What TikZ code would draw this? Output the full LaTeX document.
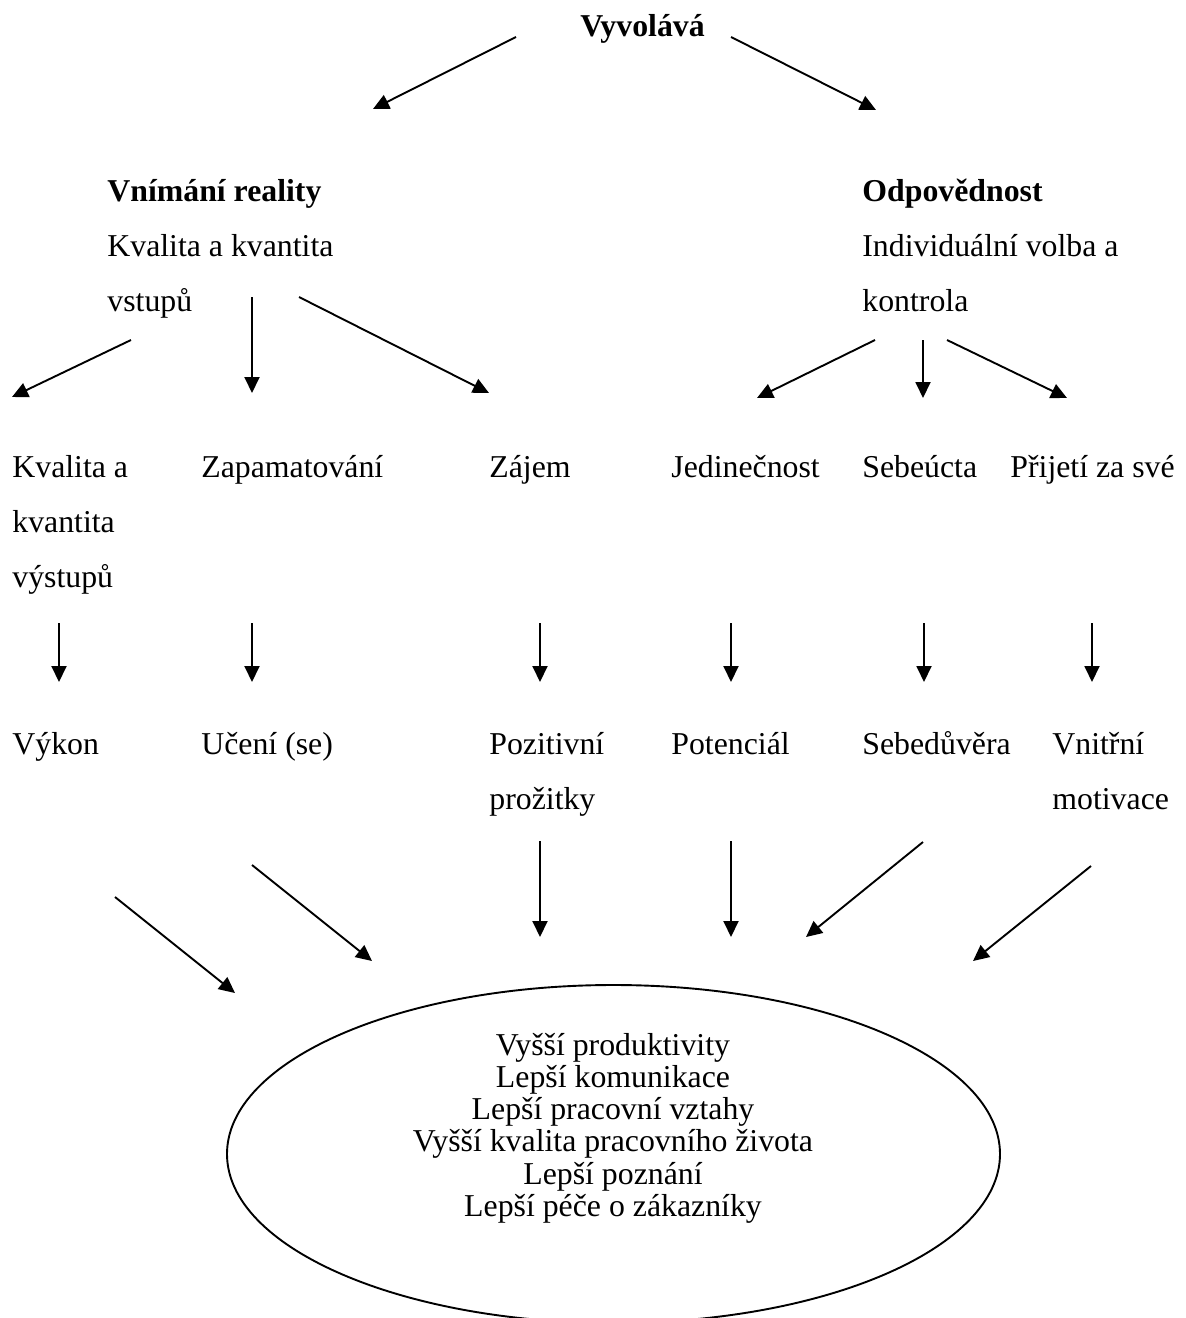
\documentclass[tikz,border=0pt]{standalone}
\usepackage{fontspec}
\setmainfont{Liberation Serif}
\usetikzlibrary{arrows.meta,shapes.geometric}
\begin{document}
\begin{tikzpicture}[x=0.5pt,y=-0.5pt,
  txt/.style={font=\fontsize{15.9pt}{19pt}\selectfont, inner sep=0pt, anchor=base west},
  btxt/.style={txt, font=\fontsize{15.9pt}{19pt}\selectfont\bfseries},
  ctxt/.style={txt, anchor=base},
  arr/.style={line width=0.95pt, -{Triangle[length=8pt,width=7.5pt]}},
  bubble/.style={draw, ellipse, line width=0.95pt, inner sep=0pt, minimum width=386.5pt, minimum height=169pt}]
\useasboundingbox (0,0) rectangle (1186,1318);
\clip (0,0) rectangle (1186,1318);
\fill[white] (0,0) rectangle (1186,1318);

% top
\node[btxt] (top) at (580,36) {Vyvolává};

% level 1
\node[btxt] (vn1) at (107,201) {Vnímání reality};
\node[txt]  (vn2) at (107,256) {Kvalita a kvantita};
\node[txt]  (vn3) at (107,311) {vstupů};
\node[btxt] (od1) at (862,201) {Odpovědnost};
\node[txt]  (od2) at (862,256) {Individuální volba a};
\node[txt]  (od3) at (862,311) {kontrola};

% level 2
\node[txt] (kv1) at (12,477) {Kvalita a};
\node[txt] (kv2) at (12,532) {kvantita};
\node[txt] (kv3) at (12,587) {výstupů};
\node[txt] (zap) at (201,477) {Zapamatování};
\node[txt] (zaj) at (489,477) {Zájem};
\node[txt] (jed) at (671,477) {Jedinečnost};
\node[txt] (seb) at (862,477) {Sebeúcta};
\node[txt] (pri) at (1010,477) {Přijetí za své};

% level 3
\node[txt] (vyk) at (12,754) {Výkon};
\node[txt] (uce) at (201,754) {Učení (se)};
\node[txt] (poz1) at (489,754) {Pozitivní};
\node[txt] (poz2) at (489,809) {prožitky};
\node[txt] (pot) at (671,754) {Potenciál};
\node[txt] (sed) at (862,754) {Sebedůvěra};
\node[txt] (vni1) at (1052,754) {Vnitřní};
\node[txt] (vni2) at (1052,809) {motivace};

% outcome ellipse
\node[bubble] (out) at (613.5,1154) {};
\node[ctxt] (o1) at (613,1055) {Vyšší produktivity};
\node[ctxt] (o2) at (613,1087) {Lepší komunikace};
\node[ctxt] (o3) at (613,1119) {Lepší pracovní vztahy};
\node[ctxt] (o4) at (613,1151) {Vyšší kvalita pracovního života};
\node[ctxt] (o5) at (613,1184) {Lepší poznání};
\node[ctxt] (o6) at (613,1216) {Lepší péče o zákazníky};

% arrow end points
\coordinate (a1s) at (516,37);  \coordinate (a1e) at (373,109);
\coordinate (a2s) at (731,37);  \coordinate (a2e) at (876,110);
\coordinate (l1s) at (131,340); \coordinate (l1e) at (12,397);
\coordinate (l2s) at (252,297); \coordinate (l2e) at (252,393);
\coordinate (l3s) at (299,297); \coordinate (l3e) at (489,393);
\coordinate (r1s) at (875,340); \coordinate (r1e) at (757,398);
\coordinate (r2s) at (923,340); \coordinate (r2e) at (923,398);
\coordinate (r3s) at (947,340); \coordinate (r3e) at (1067,398);
\foreach \n/\x in {d1/59,d2/252,d3/540,d4/731,d5/924,d6/1092}{
  \coordinate (\n s) at (\x,623); \coordinate (\n e) at (\x,682);}
\coordinate (b1s) at (115,897);  \coordinate (b1e) at (235,993);
\coordinate (b2s) at (252,865);  \coordinate (b2e) at (372,961);
\coordinate (b3s) at (540,841);  \coordinate (b3e) at (540,937);
\coordinate (b4s) at (731,841);  \coordinate (b4e) at (731,937);
\coordinate (b5s) at (923,842);  \coordinate (b5e) at (806,937);
\coordinate (b6s) at (1091,866); \coordinate (b6e) at (973,961);

\foreach \a in {a1,a2,l1,l2,l3,r1,r2,r3,d1,d2,d3,d4,d5,d6,b1,b2,b3,b4,b5,b6}
  \draw[arr] (\a s) -- (\a e);
\end{tikzpicture}
\end{document}
